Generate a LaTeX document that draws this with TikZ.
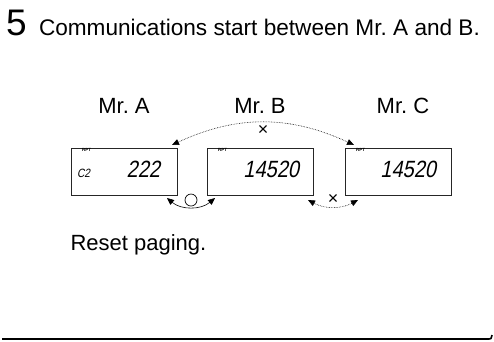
\documentclass[tikz,border=0pt]{standalone}
\usepackage{fontspec}
\setmainfont{Liberation Sans}
\newfontfamily\lcdfont[FakeSlant=0.2,FakeStretch=0.85]{Liberation Sans}
\usetikzlibrary{positioning,arrows.meta}
\frenchspacing

\begin{document}
\begin{tikzpicture}[
        x=1pt, y=-1pt,
        every node/.style={inner sep=0pt, outer sep=0pt},
        lcd/.style={draw=black!85, line width=0.8pt, minimum width=106pt, minimum height=47pt},
        person/.style={font=\fontsize{22}{26}\selectfont, anchor=base},
        digits/.style={font=\lcdfont\fontsize{23.5}{26}\selectfont, anchor=base east},
        tag/.style={font=\bfseries\fontsize{4.5}{5}\selectfont, anchor=north west},
        link/.style={line width=0.6pt, {Triangle[length=7pt,width=6pt]}-{Triangle[length=7pt,width=6pt]}},
        nolink/.style={link, densely dotted},
        sign/.style={font=\fontsize{18}{20}\selectfont},
        ring/.style={circle, draw, line width=0.7pt, minimum size=12pt}
    ]
    \useasboundingbox (0,0) rectangle (494,341);

    % heading
    \node[anchor=base west, font=\fontsize{37}{40}\selectfont] (stepnum) at (6,35) {5};
    \node[anchor=base west, font=\fontsize{22.6}{26}\selectfont] (heading) at (39,35)
        {Communications start between Mr. A and B.};

    % displays
    \node[lcd] (boxA) at (124,171.5) {};
    \node[lcd, right=30pt of boxA] (boxB) {};
    \node[lcd, right=32pt of boxB] (boxC) {};

    \node[person] (nameA) at ([yshift=35pt]boxA.north) {Mr. A};
    \node[person] (nameB) at ([yshift=35pt]boxB.north) {Mr. B};
    \node[person] (nameC) at ([xshift=5pt,yshift=35pt]boxC.north) {Mr. C};

    \node[tag] (tagA) at ([xshift=11pt,yshift=-0.5pt]boxA.north west) {RPT};
    \node[tag] (tagB) at ([xshift=11pt,yshift=-0.5pt]boxB.north west) {RPT};
    \node[tag] (tagC) at ([xshift=11pt,yshift=-0.5pt]boxC.north west) {RPT};

    \node[font=\lcdfont\fontsize{12}{14}\selectfont, anchor=base west] (chanA)
        at ([xshift=6pt,yshift=-5.5pt]boxA.west) {C2};
    \node[digits] (dispA) at ([xshift=-17pt,yshift=-5.5pt]boxA.east) {222};
    \node[digits] (dispB) at ([xshift=-14pt,yshift=-5.5pt]boxB.east) {14520};
    \node[digits] (dispC) at ([xshift=-15pt,yshift=-5.5pt]boxC.east) {14520};

    % links
    \draw[nolink] ([xshift=-5pt,yshift=3pt]boxA.north east) to[bend left=25]
        node[sign, below=3pt] {×} ([xshift=9pt,yshift=3pt]boxC.north west);
    \draw[link] ([xshift=-10pt,yshift=-3pt]boxA.south east) to[bend right=40]
        node[ring, above=1pt] {} ([xshift=8pt,yshift=-3pt]boxB.south west);
    \draw[nolink] ([xshift=-5pt,yshift=-5pt]boxB.south east) to[bend right=28]
        node[sign, above=2pt] {×} ([xshift=13pt,yshift=-5pt]boxC.south west);

    \node[anchor=base west, font=\fontsize{22}{26}\selectfont] (reset) at (70.5,250) {Reset paging.};

    % rule
    \draw[line width=1.6pt] (2,339) -- (489,339) .. controls (491,339) .. (492,335);
\end{tikzpicture}
\end{document}
